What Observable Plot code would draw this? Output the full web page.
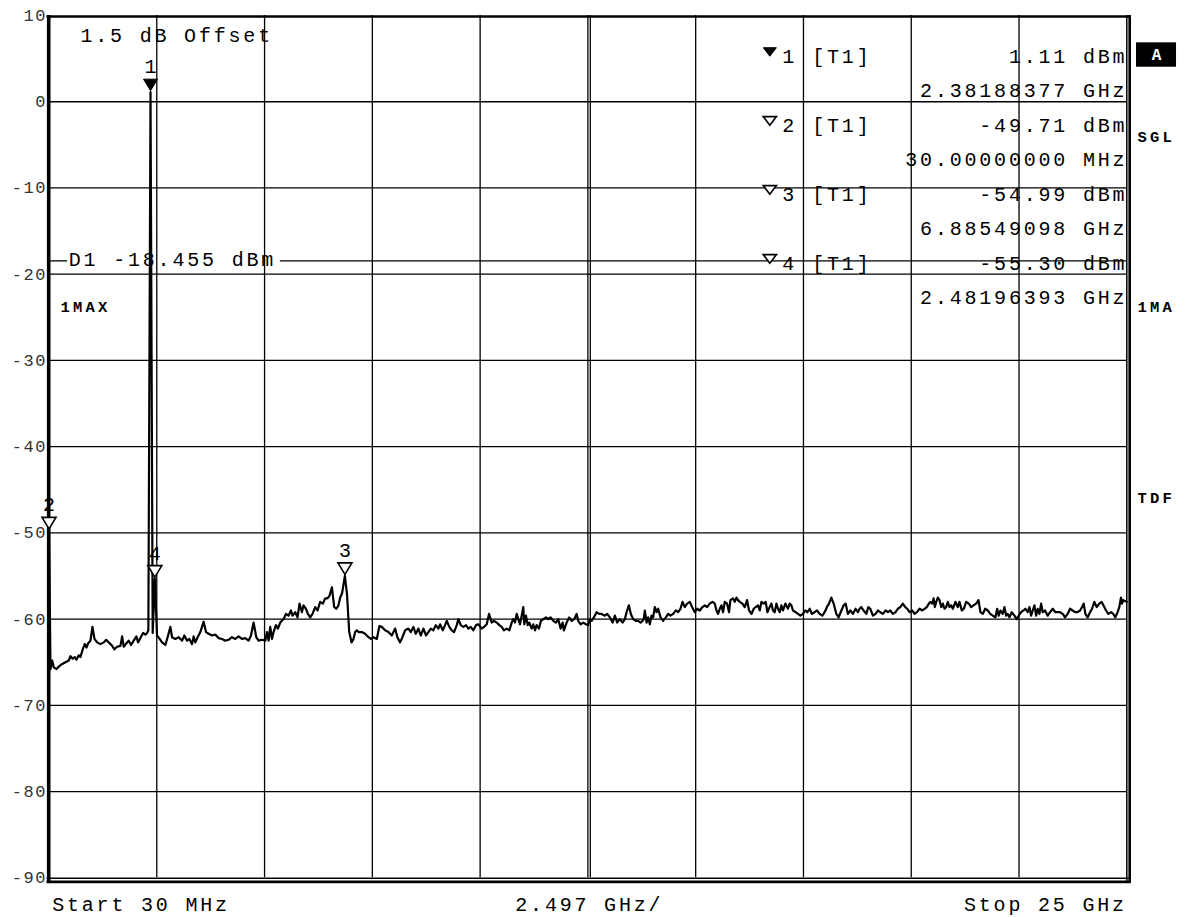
<!DOCTYPE html>
<html>
<head>
<meta charset="utf-8">
<script src="https://cdn.jsdelivr.net/npm/d3@7"></script>
<script src="https://cdn.jsdelivr.net/npm/@observablehq/plot@0.6"></script>
<style>
  html, body { margin: 0; padding: 0; background: #fff; }
  #chart { width: 1188px; height: 917px; overflow: hidden; }
</style>
</head>
<body>
<div id="chart"></div>
<script>
// ---------- sweep settings ----------
const startGHz = 0.03;
const stopGHz = 25;
const divGHz = 2.497;
const refLevel = 10;
const bottomLevel = -90;
const yTickLevels = [10, 0, -10, -20, -30, -40, -50, -60, -70, -80, -90];
const gridLevels = [0, -10, -20, -30, -40, -50, -60, -70, -80];
const gridDivisions = [1, 2, 3, 4, 5, 6, 7, 8, 9];

// ---------- trace 1 (max hold) ----------
const traceFreqGHz = [
  0.030, 0.065, 0.104, 0.141, 0.204, 0.257, 0.335, 0.412, 0.488, 0.528,
  0.581, 0.627, 0.666, 0.720, 0.759, 0.812, 0.858, 0.898, 0.937, 0.990,
  1.037, 1.083, 1.145, 1.222, 1.298, 1.354, 1.414, 1.493, 1.546, 1.608,
  1.685, 1.724, 1.761, 1.824, 1.877, 1.932, 1.992, 2.055, 2.094, 2.147,
  2.210, 2.263, 2.303, 2.332, 2.382, 2.432, 2.482, 2.532, 2.594, 2.650,
  2.726, 2.789, 2.842, 2.881, 2.957, 3.034, 3.113, 3.166, 3.228, 3.281,
  3.344, 3.381, 3.420, 3.474, 3.536, 3.612, 3.668, 3.728, 3.807, 3.883,
  3.960, 4.038, 4.115, 4.191, 4.270, 4.346, 4.422, 4.501, 4.577, 4.654,
  4.709, 4.770, 4.832, 4.885, 4.964, 5.040, 5.080, 5.117, 5.156, 5.195,
  5.232, 5.288, 5.334, 5.387, 5.464, 5.519, 5.579, 5.635, 5.672, 5.735,
  5.788, 5.834, 5.890, 5.927, 5.982, 6.028, 6.082, 6.135, 6.197, 6.251,
  6.313, 6.376, 6.429, 6.482, 6.528, 6.584, 6.637, 6.683, 6.737, 6.776,
  6.820, 6.885, 6.935, 6.985, 7.040, 7.084, 7.123, 7.163, 7.200, 7.278,
  7.354, 7.431, 7.486, 7.547, 7.625, 7.685, 7.741, 7.817, 7.894, 7.972,
  8.049, 8.102, 8.164, 8.218, 8.280, 8.357, 8.412, 8.472, 8.528, 8.588,
  8.643, 8.704, 8.766, 8.819, 8.875, 8.935, 8.991, 9.051, 9.090, 9.153,
  9.206, 9.245, 9.305, 9.361, 9.414, 9.477, 9.514, 9.569, 9.630, 9.692,
  9.745, 9.801, 9.861, 9.923, 9.977, 10.055, 10.108, 10.171, 10.224, 10.287,
  10.340, 10.402, 10.462, 10.518, 10.571, 10.634, 10.694, 10.750, 10.787, 10.826,
  10.865, 10.902, 10.942, 10.981, 11.018, 11.041, 11.080, 11.120, 11.157, 11.212,
  11.249, 11.289, 11.328, 11.381, 11.427, 11.481, 11.543, 11.596, 11.652, 11.712,
  11.775, 11.828, 11.883, 11.930, 11.960, 12.022, 12.082, 12.138, 12.198, 12.254,
  12.291, 12.346, 12.406, 12.469, 12.522, 12.562, 12.601, 12.654, 12.716, 12.777,
  12.832, 12.908, 12.962, 13.024, 13.087, 13.140, 13.193, 13.256, 13.318, 13.371,
  13.411, 13.464, 13.510, 13.563, 13.626, 13.679, 13.735, 13.781, 13.811, 13.834,
  13.874, 13.911, 13.950, 13.989, 14.026, 14.066, 14.105, 14.142, 14.198, 14.258,
  14.320, 14.374, 14.429, 14.489, 14.552, 14.605, 14.660, 14.707, 14.760, 14.813,
  14.876, 14.929, 14.991, 15.045, 15.107, 15.170, 15.223, 15.276, 15.339, 15.401,
  15.454, 15.494, 15.531, 15.570, 15.609, 15.646, 15.686, 15.739, 15.785, 15.817,
  15.878, 15.917, 15.956, 15.993, 16.033, 16.095, 16.148, 16.202, 16.248, 16.304,
  16.357, 16.403, 16.456, 16.496, 16.535, 16.588, 16.635, 16.674, 16.727, 16.766,
  16.803, 16.843, 16.882, 16.919, 16.959, 16.998, 17.035, 17.090, 17.150, 17.190,
  17.229, 17.266, 17.329, 17.382, 17.438, 17.498, 17.553, 17.600, 17.653, 17.706,
  17.768, 17.822, 17.884, 17.947, 18.000, 18.053, 18.100, 18.155, 18.208, 18.271,
  18.324, 18.387, 18.439, 18.486, 18.539, 18.595, 18.655, 18.717, 18.770, 18.810,
  18.849, 18.902, 18.965, 19.011, 19.057, 19.118, 19.180, 19.233, 19.289, 19.349,
  19.412, 19.465, 19.520, 19.580, 19.643, 19.696, 19.752, 19.812, 19.867, 19.914,
  19.967, 20.030, 20.083, 20.136, 20.199, 20.261, 20.314, 20.367, 20.414, 20.446,
  20.492, 20.523, 20.553, 20.585, 20.622, 20.662, 20.701, 20.738, 20.777, 20.816,
  20.853, 20.893, 20.932, 20.969, 21.031, 21.084, 21.124, 21.177, 21.223, 21.279,
  21.339, 21.395, 21.448, 21.510, 21.564, 21.610, 21.663, 21.719, 21.779, 21.835,
  21.895, 21.957, 21.996, 22.033, 22.073, 22.126, 22.165, 22.205, 22.242, 22.281,
  22.334, 22.397, 22.450, 22.496, 22.552, 22.605, 22.651, 22.705, 22.744, 22.783,
  22.820, 22.860, 22.899, 22.936, 22.976, 23.015, 23.052, 23.107, 23.168, 23.223,
  23.284, 23.346, 23.399, 23.454, 23.515, 23.570, 23.630, 23.686, 23.746, 23.802,
  23.862, 23.917, 23.964, 24.001, 24.040, 24.093, 24.149, 24.195, 24.248, 24.302,
  24.364, 24.417, 24.457, 24.519, 24.572, 24.635, 24.688, 24.734, 24.787, 24.826,
  24.866, 24.889, 24.919, 25.000
];
const traceLevelDbm = [
  -49.71, -65.8, -64.8, -65.6, -65.8, -65.5, -65.2, -65.0, -64.8, -64.3,
  -64.6, -64.4, -64.7, -64.2, -64.4, -63.5, -62.9, -63.3, -62.8, -62.5,
  -60.9, -62.3, -62.7, -62.9, -62.7, -62.4, -62.7, -63.1, -63.5, -63.2,
  -63.1, -62.0, -63.2, -62.8, -62.5, -63.0, -62.5, -62.0, -62.7, -62.2,
  -61.6, -61.8, -61.6, -61.3, 1.11, -61.6, -55.3, -61.9, -62.3, -62.7,
  -63.0, -61.9, -60.9, -62.1, -62.3, -62.1, -62.5, -61.9, -62.5, -62.3,
  -62.9, -62.0, -62.7, -62.1, -61.5, -60.3, -61.5, -61.7, -61.9, -61.8,
  -62.2, -62.3, -62.5, -62.4, -62.1, -62.3, -62.0, -62.3, -62.2, -62.5,
  -61.9, -60.4, -62.1, -62.5, -62.4, -62.5, -61.5, -62.5, -60.9, -62.3,
  -61.5, -60.7, -61.1, -60.4, -60.0, -59.4, -59.6, -59.0, -59.6, -59.2,
  -59.8, -58.2, -59.2, -58.4, -58.8, -59.4, -59.8, -59.4, -58.6, -59.0,
  -58.0, -58.2, -57.6, -57.6, -57.3, -56.3, -58.6, -58.8, -58.4, -57.5,
  -57.0, -54.99, -57.2, -61.5, -62.7, -62.3, -61.5, -61.3, -61.5, -61.5,
  -61.7, -62.1, -62.3, -62.1, -62.3, -60.8, -60.9, -61.3, -61.5, -61.9,
  -61.1, -62.1, -62.7, -62.1, -61.3, -61.1, -61.5, -60.9, -61.7, -61.1,
  -61.9, -61.1, -61.9, -61.5, -61.1, -61.3, -60.7, -61.1, -60.6, -61.3,
  -60.7, -60.2, -60.9, -61.3, -61.5, -60.7, -60.0, -60.7, -60.9, -60.7,
  -61.1, -60.9, -61.3, -60.7, -60.6, -61.1, -60.9, -60.6, -59.4, -60.4,
  -60.2, -60.4, -60.7, -60.9, -61.3, -61.1, -61.3, -60.4, -60.0, -60.4,
  -59.4, -60.0, -60.6, -59.6, -58.6, -60.6, -59.6, -60.7, -60.4, -61.1,
  -60.6, -61.3, -60.7, -61.1, -60.2, -60.0, -59.8, -60.0, -59.8, -60.2,
  -60.4, -60.0, -61.1, -60.4, -61.3, -60.4, -59.8, -60.2, -60.0, -59.4,
  -60.2, -60.6, -60.4, -60.6, -60.7, -60.0, -60.2, -59.8, -59.2, -59.4,
  -59.4, -59.6, -59.4, -59.8, -60.4, -59.6, -60.4, -60.0, -60.4, -60.0,
  -59.2, -58.4, -59.4, -60.0, -60.2, -60.2, -60.4, -60.2, -60.0, -59.0,
  -60.4, -59.8, -60.6, -59.6, -59.8, -58.6, -59.2, -58.8, -59.8, -60.2,
  -59.8, -59.4, -59.6, -59.4, -59.0, -59.2, -58.8, -58.0, -58.6, -58.2,
  -58.0, -58.6, -59.2, -58.8, -59.0, -58.6, -58.4, -58.6, -58.2, -58.0,
  -58.2, -59.0, -59.4, -58.8, -58.4, -59.2, -58.0, -58.2, -59.2, -57.8,
  -57.6, -58.0, -57.5, -57.8, -58.0, -58.2, -58.6, -57.8, -59.0, -59.4,
  -58.8, -58.6, -58.4, -59.0, -58.0, -58.2, -58.0, -59.2, -58.6, -58.2,
  -59.0, -59.2, -58.2, -58.8, -59.2, -58.4, -59.0, -58.2, -58.8, -58.2,
  -58.4, -59.0, -59.2, -59.4, -59.6, -59.4, -59.0, -59.2, -58.8, -59.4,
  -59.2, -59.0, -59.4, -59.6, -59.2, -58.6, -58.2, -57.5, -58.2, -59.4,
  -59.8, -59.0, -58.4, -58.2, -59.4, -59.0, -59.4, -58.8, -59.2, -58.8,
  -58.6, -59.0, -59.4, -58.6, -58.8, -59.6, -59.4, -59.0, -59.2, -59.4,
  -59.0, -59.2, -59.0, -59.4, -59.2, -58.8, -58.6, -58.2, -58.6, -58.8,
  -59.2, -59.0, -59.4, -59.2, -58.8, -59.0, -58.8, -58.6, -58.2, -58.0,
  -58.2, -57.6, -58.6, -58.0, -57.5, -57.8, -58.6, -58.2, -58.8, -58.6,
  -58.0, -58.6, -58.4, -58.8, -58.0, -58.6, -58.0, -59.0, -58.8, -58.0,
  -58.2, -58.6, -58.4, -58.2, -57.8, -59.2, -59.4, -58.8, -59.0, -59.4,
  -59.6, -59.8, -58.8, -59.6, -59.0, -59.4, -58.6, -59.6, -59.4, -59.8,
  -59.2, -59.6, -60.0, -59.6, -59.2, -59.0, -58.8, -59.2, -58.6, -59.6,
  -59.0, -58.4, -59.6, -58.8, -59.4, -58.2, -59.2, -59.0, -59.6, -59.2,
  -58.8, -59.2, -59.2, -59.2, -59.4, -59.8, -59.4, -58.8, -59.0, -59.2,
  -59.2, -59.0, -58.6, -58.2, -59.4, -59.8, -59.2, -58.8, -58.0, -58.6,
  -58.2, -58.0, -58.4, -59.0, -59.4, -59.2, -59.4, -59.8, -59.2, -58.6,
  -57.5, -58.2, -57.8, -58.0
];

// ---------- markers ----------
const markerIds = ["1", "2", "3", "4"];
const markerFreqGHz = [2.38188377, 0.030, 6.88549098, 2.48196393];
const markerLevelDbm = [1.11, -49.71, -54.99, -55.30];
const markerFilled = [true, false, false, false];
const markerTrace = ["[T1]", "[T1]", "[T1]", "[T1]"];
const markerFreqText = ["2.38188377 GHz", "30.00000000 MHz", "6.88549098 GHz", "2.48196393 GHz"];

// ---------- display line & labels ----------
const displayLineDbm = -18.455;
const displayLineText = "D1 -18.455 dBm";
const offsetText = "1.5 dB Offset";
const traceModeText = "1MAX";
const sideLabels = ["SGL", "1MA", "TDF"];
const sideLabelLevels = [-4.69, -24.41, -46.48];
const boxLabel = "A";
const startText = "Start 30 MHz";
const spanText = "2.497 GHz/";
const stopText = "Stop 25 GHz";

// ---------- derived tables ----------
const traceData = traceFreqGHz.map((f, i) => ({f, l: traceLevelDbm[i]}));
const markers = markerIds.map((id, i) => ({
  id, f: markerFreqGHz[i], l: markerLevelDbm[i], filled: markerFilled[i],
  trace: markerTrace[i], levelText: `${markerLevelDbm[i].toFixed(2)} dBm`, freqText: markerFreqText[i],
  rowA: 4.5 - 8 * i, rowB: 0.5 - 8 * i
}));
const gridFreqs = gridDivisions.map(k => startGHz + k * divGHz);
const centerFreq = startGHz + 5 * divGHz;
const sideData = sideLabels.map((t, i) => ({t, y: sideLabelLevels[i]}));

const MAIN = 20;     // main font size
const LS = 2.8;      // letter spacing of the main mono font
const TICK = 17, TLS = 1.6;
const BOLD = 15.5, BLS = 3.2;
const INK = "#000";

function tipDown(w, h) {
  return {draw(ctx) { ctx.moveTo(0, 0); ctx.lineTo(-w / 2, -h); ctx.lineTo(w / 2, -h); ctx.closePath(); }};
}
const bigTri = tipDown(14, 11.5);
const smallTri = tipDown(13, 8.5);

const frameX1 = -0.016, frameX2 = 25.1;

const svg = Plot.plot({
  width: 1188,
  height: 917,
  marginLeft: 48.5,
  marginRight: 61.7,
  marginTop: 15,
  marginBottom: 39.7,
  x: {domain: [startGHz, stopGHz], axis: null},
  y: {domain: [bottomLevel, refLevel], axis: null},
  style: {
    fontFamily: "'Liberation Mono', 'Courier New', monospace",
    fontSize: MAIN + "px",
    color: INK,
    background: "#fff",
    overflow: "visible"
  },
  marks: [
    // graticule
    Plot.ruleY(gridLevels, {stroke: "#000", strokeWidth: 1.3}),
    Plot.ruleX(gridFreqs, {stroke: "#000", strokeWidth: 1.3}),
    Plot.ruleX([centerFreq], {stroke: "#000", strokeWidth: 1.3, dx: 2.4}),
    // display line D1 (broken around its label)
    Plot.ruleY([{x1: startGHz, x2: 0.46}, {x1: 5.39, x2: stopGHz}],
      {y: () => displayLineDbm, x1: "x1", x2: "x2", stroke: "#000", strokeWidth: 1.3}),
    // frame
    Plot.ruleX([startGHz], {y1: () => refLevel, y2: () => -90.6, stroke: "#000", strokeWidth: 3.6, dx: -0.3}),
    Plot.ruleY([refLevel], {x1: () => frameX1, x2: () => frameX2, stroke: "#000", strokeWidth: 2.6, dy: 1}),
    Plot.ruleY([bottomLevel], {x1: () => frameX1, x2: () => frameX2, stroke: "#000", strokeWidth: 1.6, dy: 0.4}),
    Plot.ruleY([bottomLevel], {x1: () => frameX1, x2: () => frameX2, stroke: "#000", strokeWidth: 2.8, dy: 4}),
    Plot.ruleX([stopGHz], {y1: () => refLevel, y2: () => -90.6, stroke: "#000", strokeWidth: 1.5}),
    Plot.ruleX([stopGHz], {y1: () => refLevel, y2: () => -90.6, stroke: "#000", strokeWidth: 2.6, dx: 2.9}),
    // trace
    Plot.line(traceData, {x: "f", y: "l", stroke: "#000", strokeWidth: 2.2, strokeLinejoin: "round"}),
    // markers on the trace
    Plot.dot(markers.filter(d => d.filled), {x: "f", y: "l", symbol: bigTri, fill: "#000", stroke: "#000", strokeWidth: 1, dy: -1.5}),
    Plot.dot(markers.filter(d => !d.filled), {x: "f", y: "l", symbol: bigTri, fill: "#fff", stroke: "#000", strokeWidth: 1.6, dy: -1.5}),
    Plot.text(markers, {x: "f", y: "l", text: "id", dy: -19, dx: LS / 2, lineAnchor: "bottom", textAnchor: "middle", fontSize: MAIN, fill: INK}),
    // marker table
    Plot.dot(markers.filter(d => d.filled), {x: () => 16.73, y: "rowA", symbol: smallTri, fill: "#000", stroke: "#000", strokeWidth: 1, dy: -6.7}),
    Plot.dot(markers.filter(d => !d.filled), {x: () => 16.73, y: "rowA", symbol: smallTri, fill: "#fff", stroke: "#000", strokeWidth: 1.7, dy: -6.7}),
    Plot.text(markers, {x: () => 17.017, y: "rowA", text: "id", textAnchor: "start", lineAnchor: "bottom", fontSize: MAIN, fill: INK}),
    Plot.text(markers, {x: () => 17.712, y: "rowA", text: "trace", textAnchor: "start", lineAnchor: "bottom", fontSize: MAIN, fill: INK}),
    Plot.text(markers, {x: () => 24.947, y: "rowA", text: "levelText", textAnchor: "end", lineAnchor: "bottom", dx: LS, fontSize: MAIN, fill: INK}),
    Plot.text(markers, {x: () => 24.947, y: "rowB", text: "freqText", textAnchor: "end", lineAnchor: "bottom", dx: LS, fontSize: MAIN, fill: INK}),
    // in-graph labels
    Plot.text([offsetText], {x: () => 0.760, y: () => 6.9, text: d => d, textAnchor: "start", lineAnchor: "bottom", fontSize: MAIN, fill: INK}),
    Plot.text([displayLineText], {x: () => 0.489, y: () => displayLineDbm - 0.61, text: d => d, textAnchor: "start", lineAnchor: "bottom", fontSize: MAIN, fill: INK}),
    Plot.text([traceModeText], {x: () => 0.296, y: () => -24.41, text: d => d, textAnchor: "start", lineAnchor: "bottom", fontSize: BOLD, fontWeight: "bold", fill: INK}),
    // y tick labels
    Plot.text(yTickLevels, {x: () => startGHz, y: d => d, text: d => String(d), textAnchor: "end", lineAnchor: "middle", dx: -3.5 + TLS, fontSize: TICK, fill: "#333"}),
    // right-hand status labels
    Plot.rect([boxLabel], {x1: () => 25.225, x2: () => 26.152, y1: () => 4.0, y2: () => 6.83, fill: "#000"}),
    Plot.text([boxLabel], {x: () => 25.689, y: () => 5.42, text: d => d, textAnchor: "middle", lineAnchor: "middle", fontSize: 16, fontWeight: "bold", fill: "#fff"}),
    Plot.text(sideData, {x: () => 25.25, y: "y", text: "t", textAnchor: "start", lineAnchor: "bottom", fontSize: BOLD, fontWeight: "bold", fill: INK}),
    // bottom annotations
    Plot.text([startText], {x: () => 0.104, y: () => -93.85, text: d => d, textAnchor: "start", lineAnchor: "bottom", fontSize: MAIN, fill: INK}),
    Plot.text([spanText], {x: () => centerFreq, y: () => -93.85, text: d => d, textAnchor: "middle", lineAnchor: "bottom", dx: LS / 2, fontSize: MAIN, fill: INK}),
    Plot.text([stopText], {x: () => 24.936, y: () => -93.85, text: d => d, textAnchor: "end", lineAnchor: "bottom", dx: LS, fontSize: MAIN, fill: INK})
  ]
});

document.getElementById("chart").appendChild(svg);

// letter spacing to mimic the wide instrument font
d3.select(svg).selectAll("text").each(function () {
  const cs = getComputedStyle(this);
  const fs = parseFloat(cs.fontSize);
  const bold = cs.fontWeight === "bold" || parseInt(cs.fontWeight) >= 600;
  let ls = 0;
  if (bold) ls = Math.abs(fs - BOLD) < 0.3 ? BLS : 0;
  else if (Math.abs(fs - MAIN) < 0.5) ls = LS;
  else if (Math.abs(fs - TICK) < 0.5) ls = TLS;
  if (ls) this.style.letterSpacing = ls + "px";
});
</script>
</body>
</html>
